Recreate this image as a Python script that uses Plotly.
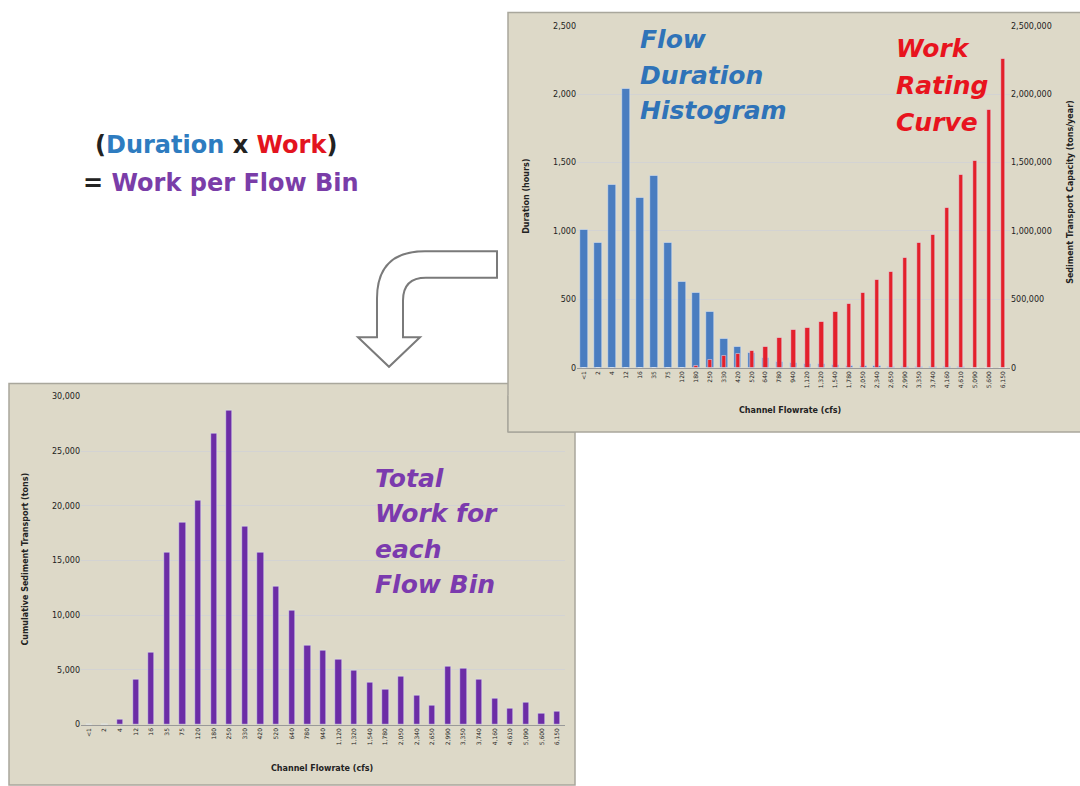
import plotly.graph_objects as go

W, H = 1080, 786

flow_bins = ["<1", "2", "4", "12", "16", "35", "75", "120", "180", "250", "330", "420", "520",
             "640", "780", "940", "1,120", "1,320", "1,540", "1,780", "2,050", "2,340", "2,650",
             "2,990", "3,350", "3,740", "4,160", "4,610", "5,090", "5,600", "6,150"]

duration_hours = [1007, 913, 1336, 2036, 1244, 1401, 913, 628, 548, 411, 210, 157, 109, 72,
                  45, 38, 32, 27, 22, 18, 15, 12, 10, 8, 7, 6, 5, 4, 3, 2, 2]

transport_capacity = [0, 0, 0, 0, 0, 0, 0, 0, 15000, 60000, 89000, 104000, 121000, 157000,
                      217000, 278000, 290000, 338000, 411000, 466000, 551000, 640000, 705000,
                      802000, 913000, 971000, 1167000, 1413000, 1510000, 1884000, 2261000]

total_work = [0, 0, 510, 4100, 6600, 15750, 18500, 20500, 26600, 28700, 18100, 15750, 12600,
              10400, 7200, 6800, 6000, 5000, 3900, 3250, 4400, 2650, 1800, 5300, 5100, 4100,
              2400, 1500, 2000, 1000, 1200]

left_ticks = [0, 500, 1000, 1500, 2000, 2500]
right_ticks = [0, 500000, 1000000, 1500000, 2000000, 2500000]
bottom_ticks = [0, 5000, 10000, 15000, 20000, 25000, 30000]

flow_label = ["Flow", "Duration", "Histogram"]
work_label = ["Work", "Rating", "Curve"]
total_label = ["Total", "Work for", "each", "Flow Bin"]


def px(x):
    return x / W


def py(y):
    return 1 - y / H


BEIGE = "#DDD9C8"
BORDER = "#A9A79C"
BLUE = "#4A7DC0"
RED = "#E3202B"
PURPLE = "#6C2DA6"
GRID = "#D3D3D3"
TF = dict(family="DejaVu Sans", size=8, color="#222222")

fig = go.Figure()

fig.add_trace(go.Bar(x=flow_bins, y=duration_hours, marker_color=BLUE, width=0.55,
                     xaxis="x", yaxis="y", name="Duration"))
fig.add_trace(go.Bar(x=flow_bins, y=transport_capacity, marker_color=RED, width=0.3,
                     xaxis="x", yaxis="y2", name="Work"))
fig.add_trace(go.Bar(x=flow_bins, y=total_work, marker_color=PURPLE, width=0.4,
                     xaxis="x2", yaxis="y3", name="Total"))

shapes = []
# bottom panel
shapes.append(dict(type="rect", xref="paper", yref="paper", layer="below",
                   x0=px(9), x1=px(575), y0=py(790), y1=py(384),
                   fillcolor=BEIGE, line=dict(color=BORDER, width=1.5)))
# top panel
shapes.append(dict(type="rect", xref="paper", yref="paper", layer="below",
                   x0=px(508), x1=px(1084), y0=py(433), y1=py(8.5),
                   fillcolor=BEIGE, line=dict(color=BORDER, width=1.5)))
# corner of top panel lying over the bottom panel
shapes.append(dict(type="rect", xref="paper", yref="paper", layer="above",
                   x0=px(508), x1=px(576), y0=py(433), y1=py(396),
                   fillcolor=BEIGE, line=dict(width=0)))
shapes.append(dict(type="line", xref="paper", yref="paper", layer="above",
                   x0=px(508), x1=px(576), y0=py(433), y1=py(433),
                   line=dict(color=BORDER, width=1.5)))
shapes.append(dict(type="line", xref="paper", yref="paper", layer="above",
                   x0=px(508), x1=px(508), y0=py(433), y1=py(396),
                   line=dict(color=BORDER, width=1.5)))

# curved arrow
pts = [("M", 497, 250), ("L", 425, 250), ("Q", 377, 250, 377, 298), ("L", 377, 337),
       ("L", 358, 337), ("L", 389, 367), ("L", 420, 337), ("L", 403, 337), ("L", 403, 300),
       ("Q", 403, 277, 426, 277), ("L", 497, 277)]
path = ""
for p in pts:
    coords = p[1:]
    s = [f"{px(coords[i]):.5f},{py(coords[i+1]):.5f}" for i in range(0, len(coords), 2)]
    path += p[0] + " ".join(s) + " "
path += "Z"
shapes.append(dict(type="path", xref="paper", yref="paper", path=path,
                   fillcolor="white", line=dict(color="#7a7a7a", width=2)))

PAP = dict(xref="paper", yref="paper", showarrow=False)
BIG = dict(family="DejaVu Sans", size=25)
ann = []
for i, t in enumerate(flow_label):
    ann.append(dict(text=f"<b><i>{t}</i></b>", x=px(638), y=py(36 + 36 * i),
                    xanchor="left", yanchor="middle", font=BIG | dict(color="#2F73B8"), **PAP))
for i, t in enumerate(work_label):
    ann.append(dict(text=f"<b><i>{t}</i></b>", x=px(894), y=py(45 + 37.5 * i),
                    xanchor="left", yanchor="middle", font=BIG | dict(color="#E8141E"), **PAP))
for i, t in enumerate(total_label):
    ann.append(dict(text=f"<b><i>{t}</i></b>", x=px(373), y=py(480 + 35.7 * i),
                    xanchor="left", yanchor="middle", font=BIG | dict(color="#7B3AAE"), **PAP))
ann.append(dict(text="<b>(<span style='color:#2E7CC0'>Duration</span> x "
                     "<span style='color:#E3141E'>Work</span>)</b>",
                x=px(216), y=py(143), xanchor="center", yanchor="middle",
                font=dict(family="DejaVu Sans", size=24, color="#222222"), **PAP))
ann.append(dict(text="<b>= <span style='color:#7A3DA8'>Work per Flow Bin</span></b>",
                x=px(221), y=py(181), xanchor="center", yanchor="middle",
                font=dict(family="DejaVu Sans", size=24, color="#222222"), **PAP))
# axis titles
ann.append(dict(text="<b>Duration (hours)</b>", x=px(527), y=py(195), textangle=-90,
                font=TF, xanchor="center", yanchor="middle", **PAP))
ann.append(dict(text="<b>Sediment Transport Capacity (tons/year)</b>", x=px(1071), y=py(190),
                textangle=-90, font=TF, xanchor="center", yanchor="middle", **PAP))
ann.append(dict(text="<b>Channel Flowrate (cfs)</b>", x=px(790), y=py(411),
                font=TF, xanchor="center", yanchor="middle", **PAP))
ann.append(dict(text="<b>Cumulative Sediment Transport (tons)</b>", x=px(26), y=py(562),
                textangle=-90, font=TF, xanchor="center", yanchor="middle", **PAP))
ann.append(dict(text="<b>Channel Flowrate (cfs)</b>", x=px(322), y=py(773),
                font=TF, xanchor="center", yanchor="middle", **PAP))

fig.update_layout(
    width=W, height=H, margin=dict(l=0, r=0, t=0, b=0),
    paper_bgcolor="white", plot_bgcolor="white",
    barmode="overlay", showlegend=False, bargap=0,
    shapes=shapes, annotations=ann,
    xaxis=dict(domain=[px(577), px(1010)], anchor="y", type="category",
               tickangle=-90, tickfont=TF | dict(size=6), showgrid=False, ticks="",
               showline=True, linecolor="#999999"),
    yaxis=dict(domain=[py(368), py(22)], anchor="x", range=[0, 2500], tickvals=left_ticks,
               tickformat=",d", tickfont=TF, showgrid=True, gridcolor=GRID,
               showline=False, zeroline=False, ticks=""),
    yaxis2=dict(overlaying="y", side="right", anchor="x", range=[0, 2500000],
                tickvals=right_ticks, tickformat=",d", tickfont=TF, showgrid=False,
                zeroline=False, ticks=""),
    xaxis2=dict(domain=[px(81), px(565)], anchor="y3", type="category",
                tickangle=-90, tickfont=TF | dict(size=6), showgrid=False, ticks="",
                showline=True, linecolor="#999999"),
    yaxis3=dict(domain=[py(729), py(397)], anchor="x2", range=[0, 30000], tickvals=bottom_ticks,
                tickformat=",d", tickfont=TF, showgrid=True, gridcolor=GRID,
                zeroline=False, ticks=""),
)

fig.write_html(
    "out.html",
    config={"displayModeBar": False},
    post_script="document.body.style.margin='0px';document.body.style.overflow='hidden';",
)
